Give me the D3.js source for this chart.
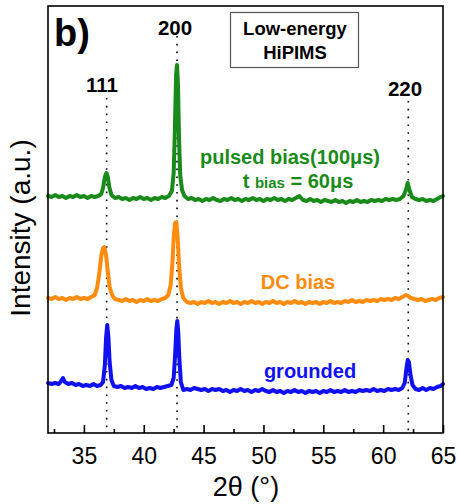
<!DOCTYPE html>
<html><head><meta charset="utf-8">
<script src="https://cdn.jsdelivr.net/npm/d3@7"></script>
<style>body{margin:0;background:#fff}svg{display:block;font-family:"Liberation Sans",Arial,sans-serif}</style>
</head><body><svg id="c" width="457" height="504"></svg>
<script>
// ---- data (2θ in degrees, intensity in arbitrary units incl. vertical offset) ----
const xTicks = [35, 40, 45, 50, 55, 60, 65];
const xMinorTicks = [32.5, 37.5, 42.5, 47.5, 52.5, 57.5, 62.5];
const peakLabels = ["111", "200", "220"];
const peakPositions = [36.9, 42.78, 62.1];
const peakLabelTop = [335, 397, 332];

const pulsedBias = [[32.0,237],[32.3,236],[32.6,238],[32.9,236],[33.2,237],[33.5,235],[33.8,237],[34.1,236],[34.4,238],[34.7,236],[35.0,237],[35.3,235],[35.6,237],[35.9,236],[36.2,237],[36.45,239],[36.6,245],[36.75,256],[36.88,260],[37.0,256],[37.12,246],[37.3,238],[37.6,235],[37.9,236],[38.2,234],[38.5,235],[38.8,233],[39.1,235],[39.4,234],[39.7,236],[40.0,234],[40.3,235],[40.6,233],[40.9,235],[41.2,234],[41.5,236],[41.8,235],[42.1,237],[42.35,242],[42.5,260],[42.6,303],[42.7,358],[42.78,368],[42.86,348],[42.95,293],[43.05,257],[43.2,243],[43.4,237],[43.7,234],[44.0,235],[44.3,233],[44.6,234],[44.9,232],[45.2,234],[45.5,233],[45.8,235],[46.1,233],[46.4,232],[46.7,234],[47.0,233],[47.3,235],[47.6,233],[47.9,234],[48.2,232],[48.5,234],[48.8,233],[49.1,235],[49.4,233],[49.7,234],[50.0,232],[50.3,234],[50.6,233],[50.9,235],[51.2,233],[51.5,234],[51.8,232],[52.1,234],[52.4,233],[52.7,235],[53.0,237],[53.3,233],[53.6,232],[53.9,234],[54.2,232],[54.5,233],[54.8,231],[55.1,233],[55.4,232],[55.7,231],[56.0,233],[56.3,231],[56.6,232],[56.9,230],[57.2,232],[57.5,231],[57.8,233],[58.1,231],[58.4,232],[58.7,231],[59.0,233],[59.3,232],[59.6,233],[59.9,232],[60.2,234],[60.5,233],[60.8,234],[61.1,233],[61.4,234],[61.7,237],[61.9,243],[62.05,250],[62.2,243],[62.4,236],[62.7,234],[63.0,233],[63.3,234],[63.6,232],[63.9,233],[64.2,232],[64.5,234],[64.8,236],[65.0,237]];

const dcBias = [[32.0,135],[32.3,134],[32.6,136],[32.9,134],[33.2,135],[33.5,133],[33.8,135],[34.1,134],[34.4,136],[34.7,134],[35.0,135],[35.3,134],[35.6,136],[35.9,138],[36.1,145],[36.3,161],[36.45,177],[36.6,185],[36.7,186],[36.85,178],[37.0,161],[37.15,146],[37.35,138],[37.6,134],[37.9,133],[38.2,132],[38.5,134],[38.8,132],[39.1,133],[39.4,131],[39.7,133],[40.0,132],[40.3,134],[40.6,132],[40.9,133],[41.2,132],[41.5,134],[41.8,135],[42.05,138],[42.25,148],[42.4,171],[42.5,195],[42.62,210],[42.72,211],[42.82,198],[42.95,168],[43.1,145],[43.3,135],[43.6,131],[43.9,130],[44.2,131],[44.5,129],[44.8,131],[45.1,130],[45.4,132],[45.7,130],[46.0,131],[46.3,129],[46.6,131],[46.9,130],[47.2,132],[47.5,130],[47.8,131],[48.1,129],[48.4,131],[48.7,130],[49.0,132],[49.3,130],[49.6,131],[49.9,129],[50.2,131],[50.5,130],[50.8,132],[51.1,130],[51.4,131],[51.7,129],[52.0,131],[52.3,130],[52.6,132],[52.9,130],[53.2,131],[53.5,129],[53.8,131],[54.1,130],[54.4,131],[54.7,129],[55.0,131],[55.3,130],[55.6,132],[55.9,130],[56.2,131],[56.5,130],[56.8,132],[57.1,131],[57.4,133],[57.7,131],[58.0,132],[58.3,131],[58.6,133],[58.9,132],[59.2,133],[59.5,132],[59.8,134],[60.1,133],[60.4,134],[60.7,133],[61.0,135],[61.3,134],[61.6,136],[61.9,138],[62.1,137],[62.3,135],[62.6,134],[62.9,133],[63.2,134],[63.5,132],[63.8,133],[64.1,134],[64.4,133],[64.7,135],[65.0,136]];

const grounded = [[32.0,50],[32.3,49],[32.6,50],[32.9,49],[33.1,52],[33.25,55],[33.4,51],[33.7,49],[34.0,50],[34.3,48],[34.6,49],[34.9,47],[35.2,48],[35.5,47],[35.8,49],[36.1,47],[36.4,48],[36.6,51],[36.75,68],[36.85,95],[36.95,108],[37.05,95],[37.15,71],[37.3,53],[37.5,47],[37.8,46],[38.1,47],[38.4,45],[38.7,46],[39.0,45],[39.3,47],[39.6,45],[39.9,46],[40.2,44],[40.5,45],[40.8,44],[41.1,46],[41.4,45],[41.7,46],[42.0,47],[42.3,48],[42.5,55],[42.62,78],[42.72,103],[42.8,112],[42.88,101],[42.98,73],[43.1,51],[43.3,43],[43.6,44],[43.9,43],[44.2,45],[44.5,44],[44.8,43],[45.1,44],[45.4,42],[45.7,44],[46.0,43],[46.3,44],[46.6,42],[46.9,43],[47.2,41],[47.5,43],[47.8,42],[48.1,44],[48.4,42],[48.7,43],[49.0,41],[49.3,43],[49.6,42],[49.9,44],[50.2,42],[50.5,41],[50.8,43],[51.1,41],[51.4,42],[51.7,40],[52.0,42],[52.3,41],[52.6,43],[52.9,41],[53.2,42],[53.5,40],[53.8,42],[54.1,41],[54.4,42],[54.7,40],[55.0,42],[55.3,41],[55.6,43],[55.9,41],[56.2,42],[56.5,41],[56.8,43],[57.1,41],[57.4,42],[57.7,41],[58.0,43],[58.3,42],[58.6,43],[58.9,42],[59.2,44],[59.5,42],[59.8,43],[60.1,42],[60.4,44],[60.7,43],[61.0,44],[61.3,43],[61.6,45],[61.8,50],[61.95,65],[62.05,73],[62.15,71],[62.3,57],[62.45,48],[62.7,44],[63.0,43],[63.3,45],[63.6,43],[63.9,45],[64.2,44],[64.5,46],[64.8,47],[65.0,49]];

const seriesNames = ["pulsed", "dc", "grounded"];
const seriesColors = ["#1a8a1a", "#ff8c0f", "#1010f0"];

// ---- layout ----
const svg = d3.select("#c");
const L = 48, R = 443, T = 6, B = 433;
const x = d3.scaleLinear().domain([32, 65]).range([L, R]);
const y = d3.scaleLinear().domain([0, 427]).range([B, T]);

// dotted reference lines
peakPositions.forEach((p, i) => {
  svg.append("line").attr("x1", x(p)).attr("x2", x(p))
    .attr("y1", y(peakLabelTop[i])).attr("y2", B)
    .attr("stroke", "#000").attr("stroke-width", 1.6)
    .attr("stroke-dasharray", "1.6,6.2");
});

// series
const line = d3.line().x(d => x(d[0])).y(d => y(d[1])).curve(d3.curveLinear);
[pulsedBias, dcBias, grounded].forEach((s, i) => {
  svg.append("path").datum(s).attr("d", line)
    .attr("fill", "none").attr("stroke", seriesColors[i])
    .attr("stroke-width", 4).attr("stroke-linejoin", "round").attr("stroke-linecap", "round");
});

// frame
svg.append("rect").attr("x", L).attr("y", T).attr("width", R - L).attr("height", B - T)
  .attr("fill", "none").attr("stroke", "#000").attr("stroke-width", 1.6);

// bottom axis
const ax = svg.append("g").attr("transform", `translate(0,${B})`)
  .call(d3.axisBottom(x).tickValues(xTicks).tickSize(-8).tickPadding(14).tickFormat(d3.format("d")));
ax.select(".domain").remove();
ax.selectAll(".tick line").attr("stroke-width", 1.6);
ax.selectAll("text").attr("font-size", 23).attr("fill", "#000").attr("dy", "0.75em");
const axm = svg.append("g").attr("transform", `translate(0,${B})`)
  .call(d3.axisBottom(x).tickValues(xMinorTicks).tickSize(-4).tickFormat(""));
axm.select(".domain").remove();
axm.selectAll(".tick line").attr("stroke-width", 1.6);

// axis titles
svg.append("text").attr("x", 246).attr("y", 496).attr("text-anchor", "middle")
  .attr("font-size", 27).text("2θ (°)");
svg.append("text").attr("transform", "translate(30,228) rotate(-90)").attr("text-anchor", "middle")
  .attr("font-size", 28).text("Intensity (a.u.)");

// panel letter
svg.append("text").attr("x", 54).attr("y", 46).attr("font-size", 38).attr("font-weight", "bold").text("b)");

// peak labels
const plx = [102, 175, 405], ply = [92, 35, 96];
peakLabels.forEach((t, i) => {
  svg.append("text").attr("x", plx[i]).attr("y", ply[i]).attr("text-anchor", "middle")
    .attr("font-size", 20.5).attr("font-weight", "bold").text(t);
});

// legend box
svg.append("rect").attr("x", 230.5).attr("y", 12.5).attr("width", 128).attr("height", 55)
  .attr("fill", "#fff").attr("stroke", "#555").attr("stroke-width", 1.2);
svg.append("text").attr("x", 295).attr("y", 35).attr("text-anchor", "middle")
  .attr("font-size", 18.5).attr("font-weight", "bold").text("Low-energy");
svg.append("text").attr("x", 295).attr("y", 59).attr("text-anchor", "middle")
  .attr("font-size", 18.5).attr("font-weight", "bold").text("HiPIMS");

// series labels
svg.append("text").attr("x", 290).attr("y", 164).attr("text-anchor", "middle")
  .attr("font-size", 20).attr("font-weight", "bold").attr("fill", seriesColors[0]).text("pulsed bias(100μs)");
const t2 = svg.append("text").attr("x", 298).attr("y", 188).attr("text-anchor", "middle")
  .attr("font-weight", "bold").attr("fill", seriesColors[0]);
t2.append("tspan").attr("font-size", 20).text("t ");
t2.append("tspan").attr("font-size", 15).text("bias");
t2.append("tspan").attr("font-size", 20).text(" = 60μs");
svg.append("text").attr("x", 298).attr("y", 289).attr("text-anchor", "middle")
  .attr("font-size", 20).attr("font-weight", "bold").attr("fill", seriesColors[1]).text("DC bias");
svg.append("text").attr("x", 310).attr("y", 378).attr("text-anchor", "middle")
  .attr("font-size", 20).attr("font-weight", "bold").attr("fill", seriesColors[2]).text("grounded");
</script></body></html>
